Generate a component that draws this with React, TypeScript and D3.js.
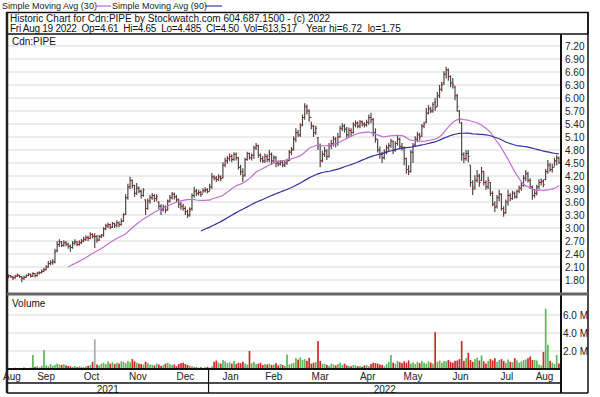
import React from 'react';
import * as d3 from 'd3';

// ---- data (Aug 19 2021 .. Aug 19 2022, trading days) ----
const closes = [
  1.88,1.86,1.90,1.87,1.85,1.89,1.91,1.88,1.84,1.86,
  1.90,1.93,1.89,1.95,1.90,1.96,1.97,2.00,2.04,2.10,
  2.18,2.20,2.22,2.45,2.62,2.68,2.60,2.66,2.63,2.58,
  2.55,2.65,2.68,2.62,2.66,2.70,2.74,2.78,2.76,2.85,
  2.80,2.80,2.72,2.80,2.82,2.98,3.05,3.08,3.02,3.10,
  3.06,3.12,3.08,3.15,3.30,3.70,3.95,4.10,3.98,3.80,
  3.92,3.85,3.75,3.88,3.45,3.62,3.70,3.75,3.68,3.72,
  3.50,3.42,3.48,3.40,3.62,3.70,3.78,3.72,3.65,3.55,
  3.50,3.45,3.38,3.30,3.42,3.75,3.85,3.80,3.82,3.78,
  3.86,3.88,3.84,3.95,4.18,4.15,4.12,4.18,4.14,4.45,
  4.55,4.60,4.65,4.58,4.70,4.62,4.40,4.30,4.20,4.58,
  4.72,4.62,4.68,4.85,4.90,4.68,4.60,4.55,4.65,4.58,
  4.70,4.55,4.62,4.50,4.48,4.52,4.45,4.50,4.55,4.75,
  4.80,5.05,5.20,5.15,5.35,5.55,5.80,5.70,5.55,5.35,
  5.20,5.30,4.90,4.55,4.70,4.78,4.65,4.90,4.95,5.05,
  4.95,5.10,5.30,5.35,5.28,5.15,5.25,5.20,5.38,5.42,
  5.35,5.45,5.40,5.38,5.44,5.55,5.50,5.20,5.05,4.80,
  4.70,4.62,4.75,4.85,4.90,5.00,4.80,4.95,5.05,4.88,
  4.85,4.60,4.35,4.30,4.75,4.90,5.05,5.15,5.10,5.35,
  5.40,5.65,5.75,5.70,5.85,5.78,6.05,6.20,6.30,6.55,
  6.65,6.50,6.35,6.30,6.05,5.80,5.50,4.70,4.60,4.72,
  4.65,4.05,3.90,4.10,4.20,4.05,4.30,4.05,3.95,4.10,
  3.80,3.55,3.48,3.70,3.78,3.45,3.35,3.60,3.75,3.68,
  3.80,3.72,3.85,3.92,3.98,4.15,4.25,4.10,3.95,3.75,
  3.80,3.95,4.05,4.08,4.00,4.30,4.45,4.35,4.40,4.55,
  4.62,4.50,
];
const opens = [
  1.85,1.88,1.86,1.90,1.87,1.85,1.89,1.91,1.88,1.84,
  1.86,1.90,1.93,1.89,1.95,1.90,1.96,1.97,2.00,2.04,
  2.10,2.18,2.20,2.22,2.48,2.62,2.68,2.60,2.66,2.63,
  2.58,2.55,2.65,2.68,2.62,2.66,2.70,2.74,2.78,2.76,
  2.85,2.82,2.80,2.72,2.80,2.84,2.98,3.05,3.08,3.02,
  3.10,3.06,3.12,3.08,3.16,3.32,3.70,3.95,4.10,3.98,
  3.80,3.92,3.85,3.75,3.65,3.45,3.62,3.70,3.75,3.68,
  3.60,3.50,3.42,3.48,3.42,3.62,3.70,3.78,3.72,3.65,
  3.55,3.50,3.45,3.38,3.30,3.45,3.75,3.85,3.80,3.82,
  3.78,3.86,3.88,3.84,3.95,4.18,4.15,4.12,4.18,4.16,
  4.45,4.55,4.60,4.65,4.58,4.70,4.62,4.40,4.30,4.22,
  4.58,4.72,4.62,4.68,4.85,4.90,4.68,4.60,4.55,4.65,
  4.58,4.70,4.55,4.62,4.50,4.48,4.52,4.45,4.50,4.56,
  4.75,4.82,5.05,5.20,5.15,5.38,5.55,5.80,5.70,5.55,
  5.35,5.20,5.08,4.90,4.55,4.70,4.78,4.65,4.90,4.95,
  5.05,4.95,5.10,5.30,5.35,5.28,5.15,5.25,5.20,5.38,
  5.42,5.35,5.45,5.40,5.38,5.44,5.55,5.50,5.20,5.05,
  4.80,4.70,4.62,4.75,4.85,4.90,5.00,4.80,4.95,5.05,
  4.88,4.85,4.60,4.35,4.30,4.75,4.92,5.05,5.15,5.12,
  5.35,5.45,5.65,5.75,5.70,5.90,5.80,6.05,6.20,6.35,
  6.55,6.65,6.50,6.35,6.25,6.05,5.70,5.42,4.70,4.60,
  4.72,4.45,4.05,3.95,4.10,4.20,4.10,4.30,4.05,3.95,
  4.05,3.80,3.55,3.50,3.70,3.78,3.45,3.35,3.60,3.75,
  3.68,3.80,3.72,3.85,3.92,3.98,4.15,4.25,4.10,3.95,
  3.75,3.80,3.95,4.05,4.08,4.12,4.30,4.45,4.35,4.40,
  4.55,4.61,
];
const highs = [
  1.92,1.90,1.93,1.91,1.89,1.92,1.95,1.92,1.89,1.90,
  1.93,1.96,1.95,1.98,1.96,1.99,2.00,2.04,2.08,2.14,
  2.24,2.26,2.28,2.52,2.70,2.74,2.70,2.72,2.70,2.66,
  2.62,2.70,2.74,2.70,2.72,2.75,2.80,2.83,2.82,2.90,
  2.88,2.88,2.84,2.84,2.86,3.02,3.10,3.12,3.10,3.14,
  3.12,3.18,3.15,3.22,3.34,3.78,4.02,4.18,4.12,4.00,
  4.04,3.96,3.88,3.92,3.66,3.68,3.76,3.81,3.78,3.78,
  3.62,3.55,3.54,3.52,3.66,3.76,3.83,3.82,3.76,3.68,
  3.60,3.56,3.50,3.42,3.48,3.80,3.95,3.90,3.88,3.86,
  3.92,3.94,3.92,4.02,4.27,4.22,4.20,4.24,4.22,4.52,
  4.62,4.66,4.72,4.70,4.75,4.74,4.64,4.46,4.38,4.62,
  4.76,4.74,4.72,4.90,4.96,4.92,4.72,4.66,4.72,4.70,
  4.80,4.74,4.68,4.66,4.56,4.57,4.56,4.55,4.60,4.80,
  4.87,5.12,5.30,5.26,5.42,5.62,5.88,5.85,5.74,5.45,
  5.38,5.36,5.10,4.95,4.78,4.87,4.82,4.96,5.03,5.12,
  5.10,5.20,5.36,5.42,5.40,5.33,5.32,5.30,5.44,5.48,
  5.46,5.49,5.48,5.44,5.50,5.62,5.66,5.54,5.30,5.05,
  4.88,4.76,4.82,4.92,4.96,5.06,5.02,5.00,5.15,5.08,
  4.96,4.88,4.62,4.45,4.80,4.96,5.12,5.22,5.20,5.40,
  5.45,5.77,5.84,5.80,5.90,6.00,6.14,6.30,6.37,6.62,
  6.72,6.68,6.52,6.46,6.28,6.10,5.72,5.45,4.75,4.80,
  4.80,4.45,4.10,4.22,4.34,4.25,4.41,4.32,4.10,4.18,
  4.06,3.85,3.62,3.76,3.88,3.80,3.50,3.66,3.88,3.80,
  3.86,3.84,3.88,3.98,4.06,4.22,4.34,4.30,4.15,3.98,
  3.90,4.00,4.12,4.14,4.12,4.36,4.57,4.50,4.48,4.62,
  4.68,4.65,
];
const lows = [
  1.83,1.84,1.84,1.85,1.80,1.83,1.87,1.85,1.75,1.80,
  1.85,1.89,1.86,1.87,1.86,1.88,1.93,1.95,1.98,2.02,
  2.08,2.14,2.15,2.18,2.44,2.56,2.56,2.57,2.58,2.52,
  2.45,2.52,2.60,2.58,2.59,2.63,2.67,2.70,2.70,2.74,
  2.76,2.54,2.66,2.70,2.77,2.80,2.95,3.00,2.97,3.00,
  3.00,3.02,3.02,3.06,3.14,3.30,3.65,3.90,3.92,3.72,
  3.76,3.80,3.68,3.72,3.30,3.42,3.56,3.65,3.60,3.62,
  3.44,3.30,3.38,3.34,3.40,3.58,3.66,3.66,3.60,3.46,
  3.42,3.40,3.30,3.23,3.26,3.40,3.70,3.74,3.75,3.72,
  3.81,3.82,3.80,3.86,3.90,4.10,4.06,4.08,4.08,4.14,
  4.40,4.48,4.54,4.52,4.55,4.56,4.35,4.22,4.06,4.18,
  4.55,4.58,4.56,4.60,4.80,4.62,4.52,4.50,4.50,4.52,
  4.52,4.46,4.50,4.40,4.42,4.44,4.40,4.41,4.46,4.54,
  4.68,4.78,4.98,5.10,5.10,5.35,5.50,5.62,5.45,5.28,
  5.10,5.15,4.80,4.40,4.52,4.64,4.57,4.62,4.82,4.88,
  4.86,4.90,5.08,5.24,5.20,5.08,5.10,5.12,5.18,5.32,
  5.30,5.30,5.34,5.32,5.34,5.38,5.42,5.12,4.97,4.74,
  4.60,4.50,4.58,4.70,4.78,4.85,4.70,4.76,4.90,4.82,
  4.78,4.45,4.25,4.22,4.28,4.50,4.90,4.98,5.02,5.10,
  5.30,5.42,5.62,5.65,5.66,5.70,5.80,6.00,6.15,6.30,
  6.45,6.40,6.25,6.22,5.95,5.68,5.42,4.55,4.50,4.55,
  4.52,3.95,3.76,3.88,4.05,3.95,4.08,3.98,3.88,3.90,
  3.74,3.50,3.37,3.45,3.62,3.40,3.26,3.33,3.52,3.62,
  3.65,3.68,3.68,3.80,3.86,3.95,4.08,4.05,3.90,3.65,
  3.70,3.75,3.90,3.98,3.94,4.10,4.25,4.30,4.28,4.42,
  4.45,4.485,
];
// volume in millions of shares
const volumes = [
  0.10,0.08,0.12,0.06,0.10,0.15,0.08,0.12,0.10,0.18,
  0.12,0.10,0.15,1.55,0.25,0.30,0.18,0.35,2.10,0.40,
  0.30,0.55,0.35,0.45,0.60,0.50,0.45,0.55,0.40,0.35,
  0.30,0.25,0.35,0.20,0.30,0.25,0.20,0.30,0.35,0.45,
  0.80,3.30,0.50,0.40,0.60,0.70,0.55,0.85,0.60,0.75,
  0.55,0.70,0.60,0.85,0.80,0.65,0.90,0.75,1.10,0.85,
  0.70,0.60,0.55,0.50,0.80,0.65,0.50,0.45,0.40,0.60,
  0.50,0.35,0.45,0.60,0.70,0.55,0.45,0.50,0.30,0.55,
  0.65,0.70,0.55,0.45,0.35,0.30,0.25,0.20,0.15,0.20,
  0.10,0.20,0.25,0.15,0.30,0.80,0.95,0.70,0.60,1.00,
  0.85,0.65,0.75,0.60,0.90,0.55,0.70,0.65,0.80,0.60,
  0.50,2.00,0.65,0.80,0.55,0.60,0.70,0.45,0.55,0.50,
  0.60,0.45,0.50,0.65,0.40,0.55,0.45,0.35,1.60,0.50,
  0.60,0.70,1.20,1.05,1.30,1.00,1.10,0.90,1.25,0.60,
  0.70,0.75,3.10,0.90,0.60,0.55,0.45,0.35,0.60,0.50,
  0.40,0.55,0.70,0.45,0.60,0.40,0.35,0.30,0.45,0.40,
  0.30,0.35,0.25,0.40,0.45,0.30,0.55,0.70,0.65,0.60,
  0.50,0.45,0.30,0.55,0.80,1.55,0.70,0.60,0.90,0.75,
  0.65,0.85,0.70,0.95,0.60,0.75,0.55,0.80,0.65,0.90,
  0.70,0.60,0.85,0.70,0.60,4.10,0.80,0.95,0.70,0.90,
  0.85,1.00,0.80,0.70,0.90,0.95,1.10,3.10,0.90,1.20,
  1.80,1.00,0.80,1.10,1.25,0.95,1.50,0.85,0.60,0.90,
  1.10,0.95,1.20,0.80,1.00,1.10,0.90,0.70,1.05,0.80,
  0.75,1.20,0.95,0.70,0.85,1.00,1.05,1.20,1.40,1.00,
  1.00,0.95,0.50,0.40,1.90,6.70,2.70,0.90,0.70,0.55,
  1.55,0.61,
];
const priceTicks = ['7.20','6.90','6.60','6.30','6.00','5.70','5.40','5.10','4.80','4.50','4.20','3.90','3.60','3.30','3.00','2.70','2.40','2.10','1.80'];
const volumeTicks = [2, 4, 6];
const volumeTickLabels = ['2.0 M', '4.0 M', '6.0 M'];
const monthLabels = ['Aug','Sep','Oct','Nov','Dec','Jan','Feb','Mar','Apr','May','Jun','Jul','Aug'];
const monthTradingDays = [9,21,20,22,21,20,19,23,20,21,22,20,14];
const yearLabels = ['2021', '2022'];
const yearMonths = [5, 8];
const headerLine1 = 'Historic Chart for Cdn:PIPE by Stockwatch.com 604.687.1500 - (c) 2022';
const headerQuote = 'Fri Aug 19 2022  Op=4.61  Hi=4.65  Lo=4.485  Cl=4.50  Vol=613,517';
const headerYear = 'Year hi=6.72  lo=1.75';

const W = 600, H = 397;
const L = 7, R = 561, RR = 588;
const PT = 34, PB = 294, VB = 369, MB = 383, YB = 393;
const FONT = '"Liberation Sans", Arial, Helvetica, sans-serif';
const keepSpaces = (s: string) => s.replace(/  /g, ' \u00a0');

export default function App() {
  const n = closes.length;
  const x = d3.scaleLinear().domain([0, n]).range([3, 560]);
  const y = d3.scaleLinear().domain([1.8, 7.2]).range([280, 46]);
  const yv = d3.scaleLinear().domain([0, 6]).range([VB, 315]);

  const idx = d3.range(n);
  const ma = (p: number) => idx.map(i => (i >= p - 1 ? d3.mean(closes.slice(i - p + 1, i + 1)) as number : null));
  const ma30 = ma(30), ma90 = ma(90);
  const line = d3.line<number | null>()
    .defined(d => d !== null)
    .x((_, i) => x(i + 0.5))
    .y(d => y(d as number));

  const starts = d3.cumsum([0, ...monthTradingDays]);
  const monthBounds = starts.map(s => x(s));
  const yearStart = starts[yearMonths[0]];

  return (
    <svg width={W} height={H} style={{ position: 'absolute', left: 0, top: 0, background: '#fff' }} fontFamily={FONT}>
      <defs>
        <clipPath id="pclip"><rect x={L} y={PT} width={R - L} height={PB - PT} /></clipPath>
        <clipPath id="vclip"><rect x={L} y={PB} width={R - L} height={VB - PB} /></clipPath>
      </defs>
      <rect x={0} y={0} width={W} height={H} fill="#fff" />

      {/* legend */}
      <text x={2} y={9} fontSize={9} fill="#222">Simple Moving Avg (30)</text>
      <line x1={96} x2={111} y1={6} y2={6} stroke="#b866c8" strokeWidth={1.2} />
      <text x={112} y={9} fontSize={9} fill="#222">Simple Moving Avg (90)</text>
      <line x1={205} x2={222} y1={6} y2={6} stroke="#3a3a9a" strokeWidth={1.2} />

      {/* header */}
      <text x={10} y={22} fontSize={10} fill="#111">{keepSpaces(headerLine1)}</text>
      <text x={10} y={31.5} fontSize={10} fill="#111" textLength={287} lengthAdjust="spacing">{keepSpaces(headerQuote)}</text>
      <text x={306} y={31.5} fontSize={10} fill="#111">{keepSpaces(headerYear)}</text>

      {/* grid */}
      {priceTicks.map(t => (
        <line key={'pg' + t} x1={L} x2={R} y1={y(+t)} y2={y(+t)} stroke="#d9d9d9" strokeWidth={1} />
      ))}
      {volumeTicks.map(t => (
        <line key={'vg' + t} x1={L} x2={R} y1={yv(t)} y2={yv(t)} stroke="#d9d9d9" strokeWidth={1} />
      ))}
      {monthBounds.slice(1, -1).map((b, i) => (
        <line key={'mg' + i} x1={b} x2={b} y1={PT} y2={VB} stroke="#d4d4d4" strokeWidth={1} />
      ))}

      {/* price bars */}
      <g clipPath="url(#pclip)">
        {idx.map(i => {
          const cx = x(i + 0.5);
          return (
            <g key={'b' + i}>
              <line x1={cx} x2={cx} y1={y(highs[i])} y2={y(lows[i])} stroke="#4a4a4a" strokeWidth={1.2} />
              <line x1={cx - 1.3} x2={cx} y1={y(opens[i])} y2={y(opens[i])} stroke="#a01818" strokeWidth={1} />
              <line x1={cx} x2={cx + 1.3} y1={y(closes[i])} y2={y(closes[i])} stroke="#a01818" strokeWidth={1} />
            </g>
          );
        })}
        <path d={line(ma30) || ''} fill="none" stroke="#c070d0" strokeWidth={1.2} />
        <path d={line(ma90) || ''} fill="none" stroke="#333399" strokeWidth={1.2} />
      </g>

      {/* volume bars */}
      <g clipPath="url(#vclip)">
        {idx.map(i => {
          const up = i === 0 ? true : closes[i] > closes[i - 1];
          const same = i > 0 && closes[i] === closes[i - 1];
          const col = same ? '#a8a8a8' : up ? '#5cb85c' : '#d02828';
          return (
            <rect key={'v' + i} x={x(i) + 0.3} y={yv(volumes[i])} width={1.7} height={VB - yv(volumes[i])} fill={col} />
          );
        })}
      </g>

      <text x={12} y={45} fontSize={10} fill="#111">Cdn:PIPE</text>
      <text x={12} y={307} fontSize={10} fill="#111">Volume</text>

      {/* right axis labels */}
      {priceTicks.map(t => (
        <text key={'pt' + t} x={565} y={y(+t)} dy="0.35em" fontSize={10} fill="#222">{t}</text>
      ))}
      {volumeTicks.map((t, i) => (
        <text key={'vt' + t} x={563} y={yv(t)} dy="0.35em" fontSize={10} fill="#222">{volumeTickLabels[i]}</text>
      ))}

      {/* month / year labels */}
      {monthLabels.map((m, i) => (
        <text key={'ml' + i} x={(monthBounds[i] + monthBounds[i + 1]) / 2 - (i === 0 ? 1 : 0)} y={376.5} dy="0.35em" textAnchor="middle" fontSize={10} fill="#222">{m}</text>
      ))}
      <text x={(L + x(yearStart)) / 2} y={389} dy="0.35em" textAnchor="middle" fontSize={10} fill="#222">{yearLabels[0]}</text>
      <text x={(x(yearStart) + R) / 2} y={389} dy="0.35em" textAnchor="middle" fontSize={10} fill="#222">{yearLabels[1]}</text>

      {/* frame */}
      <rect x={L} y={12.5} width={RR - L} height={PT - 12.5} fill="none" stroke="#111" strokeWidth={1.5} />
      <line x1={L} x2={L} y1={12} y2={YB} stroke="#222" strokeWidth={2.5} />
      <line x1={RR} x2={RR} y1={12} y2={YB} stroke="#111" strokeWidth={1.5} />
      <line x1={R} x2={R} y1={PT} y2={YB} stroke="#111" strokeWidth={2} />
      <line x1={L} x2={RR} y1={PB} y2={PB} stroke="#666" strokeWidth={3} />
      <line x1={L} x2={R} y1={VB} y2={VB} stroke="#111" strokeWidth={2} />
      <line x1={L} x2={R} y1={MB} y2={MB} stroke="#111" strokeWidth={1.5} />
      <line x1={L} x2={RR} y1={YB} y2={YB} stroke="#111" strokeWidth={1.5} />
      <line x1={x(yearStart)} x2={x(yearStart)} y1={VB} y2={YB} stroke="#111" strokeWidth={1.2} />
    </svg>
  );
}
